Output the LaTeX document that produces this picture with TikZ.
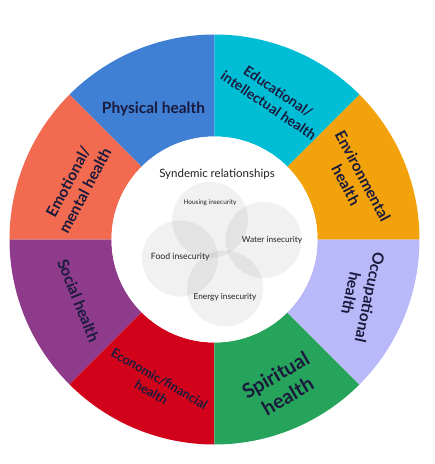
\documentclass[tikz,border=0pt]{standalone}
\usepackage{fontspec}
\setmainfont{Lato}
\definecolor{cBlue}{HTML}{3F7FD4}
\definecolor{cCyan}{HTML}{00BDD6}
\definecolor{cOrange}{HTML}{F2A20A}
\definecolor{cLav}{HTML}{B9B9F9}
\definecolor{cGreen}{HTML}{27A45B}
\definecolor{cRed}{HTML}{D0031B}
\definecolor{cPurple}{HTML}{8E3B8C}
\definecolor{cSalmon}{HTML}{F26B50}
\definecolor{labelcol}{HTML}{1A1A3C}
\definecolor{innertext}{HTML}{222222}
\begin{document}
\begin{tikzpicture}[x=1pt,y=1pt,
  seglabel/.style n args={2}{text=labelcol, align=center, font=\bfseries\fontsize{#1}{#2}\selectfont, inner sep=0pt},
  innerlabel/.style n args={2}{text=innertext, align=center, font=\fontsize{#1}{#2}\selectfont, inner sep=0pt},
  venn/.style={fill=black, fill opacity=0.055, draw=none}]
\useasboundingbox (-214.5,-224.5) rectangle (220.5,239.5);
\def\Ro{205pt}
\def\Ri{103pt}
\foreach \a/\c in {0/cOrange,45/cCyan,90/cBlue,135/cSalmon,180/cPurple,225/cRed,270/cGreen,315/cLav}{
  \pgfmathsetmacro{\b}{\a+45}
  \fill[\c] (\a:\Ro) arc[start angle=\a, end angle=\b, radius=\Ro] -- (\b:\Ri) arc[start angle=\b, end angle=\a, radius=\Ri] -- cycle;
}
\fill[white] (0,0) circle[radius=\Ri];
% venn circles
\fill[venn] (-4.5,19.5) circle[radius=38pt];
\fill[venn] (49,-0.5) circle[radius=38pt];
\fill[venn] (-34.5,-19) circle[radius=38pt];
\fill[venn] (10.5,-49) circle[radius=38pt];
% segment labels
\node[seglabel={15.5}{19}] (phys) at (-61,130) {Physical health};
\node[seglabel={14}{17}, rotate=-34] (edu) at (59,141) {Educational/\\intellectual health};
\node[seglabel={15.5}{19}, rotate=-62] (env) at (140,59) {Environmental\\health};
\node[seglabel={15.5}{19}, rotate=-102] (occ) at (146,-56) {Occupational\\health};
\node[seglabel={20}{24}, rotate=30] (spir) at (67,-146) {Spiritual\\health};
\node[seglabel={12.8}{16}, rotate=-30] (econ) at (-59,-146) {Economic/financial\\health};
\node[seglabel={15.5}{19}, rotate=-68] (soc) at (-136,-61) {Social health};
\node[seglabel={15.5}{19}, rotate=62] (emo) at (-138,53.5) {Emotional/\\mental health};
% inner labels
\node[innerlabel={11.5}{14}] (synd) at (2.5,65.5) {Syndemic relationships};
\node[innerlabel={6.5}{8}] (house) at (-4.5,37.2) {Housing insecurity};
\node[innerlabel={8.3}{10}] (water) at (57.5,-0.5) {Water insecurity};
\node[innerlabel={8.7}{10}] (food) at (-34.2,-17.8) {Food insecurity};
\node[innerlabel={8.3}{10}] (energy) at (10.5,-57.5) {Energy insecurity};
\end{tikzpicture}
\end{document}
